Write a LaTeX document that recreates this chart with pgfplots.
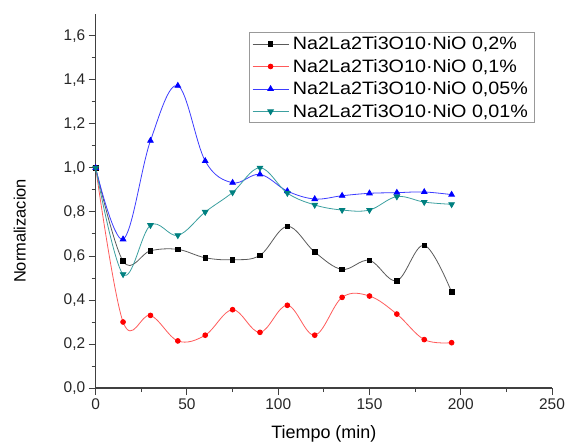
\documentclass[border=0pt]{standalone}
\usepackage{fontspec}
\setmainfont{Liberation Sans}
\newfontfamily\legfont{Liberation Sans}[FakeStretch=1.1]
\usepackage{pgfplots}
\pgfplotsset{compat=1.18}
\definecolor{axc}{RGB}{64,64,64}
\definecolor{tealm}{RGB}{0,128,128}
\definecolor{tealL}{RGB}{60,160,160}
\definecolor{redL}{RGB}{255,90,90}
\definecolor{blueL}{RGB}{60,60,255}
\definecolor{grayL}{RGB}{90,90,90}
\begin{document}
\begin{tikzpicture}
\begin{axis}[
  name=ax,
  scale only axis,
  width=456.3bp, height=374bp,
  xmin=0, xmax=250, ymin=0, ymax=1.7,
  axis x line*=bottom, axis y line*=left,
  axis line style={-, draw=axc, line width=1.3bp},
  xtick={0,50,100,150,200,250},
  minor xtick={25,75,125,175,225},
  ytick={0,0.2,0.4,0.6,0.8,1.0,1.2,1.4,1.6},
  minor ytick={0.1,0.3,0.5,0.7,0.9,1.1,1.3,1.5},
  tick align=outside,
  major tick length=7bp, minor tick length=4bp,
  every tick/.style={draw=axc, line width=1bp},
  /pgf/number format/.cd, use comma, assume math mode=true, 1000 sep={},
  /pgfplots/.cd,
  yticklabel style={/pgf/number format/.cd, fixed, fixed zerofill, precision=1},
  tick label style={font=\fontsize{15.5}{18}\selectfont, text=black!85},
  xlabel={Tiempo (min)},
  ylabel={Normalizacion},
  xlabel style={at={(axis description cs:0.5,-0.1)}, anchor=north, inner sep=0pt, font=\fontsize{18}{21}\selectfont},
  ylabel style={at={(axis description cs:-0.1666,0.42)}, anchor=center, inner sep=0pt, font=\fontsize{16.5}{19}\selectfont},
  legend style={at={(axis description cs:0.3366,0.951)}, anchor=north west,
    draw=black!40, line width=0.8bp, fill=white,
    font=\legfont\fontsize{18}{20}\selectfont, row sep=5bp, inner sep=2.5bp,
    nodes={inner ysep=1.5bp, inner xsep=4bp}},
  legend cell align=left,
  legend image code/.code={\draw[mark repeat=2,mark phase=2] plot coordinates {(0bp,0bp)(18bp,0bp)(36bp,0bp)};},
  every axis plot/.append style={line width=0.8bp, smooth, tension=0.6},
]
\addplot[grayL, mark=square*, mark size=2.3bp, mark options={draw=black, fill=black}] coordinates {
(0,1.0)(15,0.577)(30,0.624)(45,0.630)(60,0.592)(75,0.583)(90,0.603)(105,0.735)(120,0.618)(135,0.539)(150,0.580)(165,0.488)(180,0.649)(195,0.436)};
\addlegendentry{Na2La2Ti3O10·NiO 0,2\%}
\addplot[redL, mark=*, mark size=2.4bp, mark options={draw=red, fill=red}] coordinates {
(0,1.0)(15,0.300)(30,0.330)(45,0.214)(60,0.240)(75,0.356)(90,0.253)(105,0.376)(120,0.240)(135,0.412)(150,0.418)(165,0.336)(180,0.220)(195,0.206)};
\addlegendentry{Na2La2Ti3O10·NiO 0,1\%}
\addplot[blueL, mark=triangle*, mark size=3.2bp, mark options={draw=blue, fill=blue}] coordinates {
(0,1.0)(15,0.676)(30,1.124)(45,1.374)(60,1.032)(75,0.933)(90,0.971)(105,0.895)(120,0.859)(135,0.874)(150,0.885)(165,0.888)(180,0.891)(195,0.879)};
\addlegendentry{Na2La2Ti3O10·NiO 0,05\%}
\addplot[tealL, mark=triangle*, mark size=3.2bp, mark options={draw=tealm, fill=tealm, rotate=180}] coordinates {
(0,1.0)(15,0.517)(30,0.740)(45,0.694)(60,0.800)(75,0.889)(90,1.001)(105,0.886)(120,0.832)(135,0.809)(150,0.809)(165,0.870)(180,0.845)(195,0.835)};
\addlegendentry{Na2La2Ti3O10·NiO 0,01\%}
\end{axis}
\pgfresetboundingbox
\path (ax.south west) ++(-95.7bp,-56bp) rectangle ++(566bp,444bp);
\end{tikzpicture}
\end{document}
